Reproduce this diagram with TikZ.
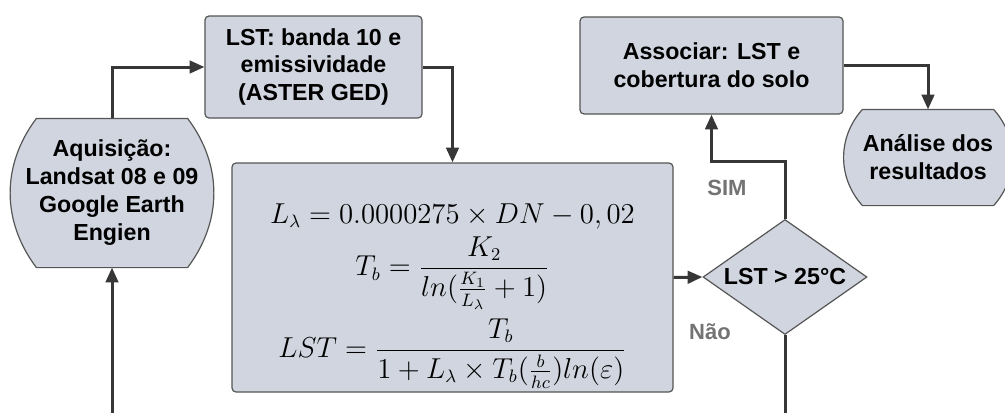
\documentclass[tikz,border=0pt]{standalone}
\usepackage{amsmath,amssymb}
\usepackage{fontspec}
\setmainfont{Liberation Sans}
\usepackage{tikz}
\usetikzlibrary{arrows.meta,positioning,shapes.geometric,calc,backgrounds}
\definecolor{boxFill}{RGB}{208,213,223}
\definecolor{boxLine}{RGB}{85,85,85}
\definecolor{lineCol}{RGB}{55,55,55}
\definecolor{labCol}{RGB}{115,115,115}
\tikzset{
  proc/.style={draw=boxLine,fill=boxFill,rounded corners=2pt,line width=0.6pt,
               align=center,font=\fontsize{11.6}{14}\selectfont\bfseries,inner sep=2pt},
  term/.style={proc,draw=none,fill=none},
  capline/.style={draw=boxLine,fill=boxFill,line width=0.6pt},
  decis/.style={proc,rounded corners=0pt,diamond,aspect=1.43,inner sep=0pt},
  flow/.style={-{Triangle[length=2.6mm,width=2.2mm]},line width=1.5pt,draw=lineCol},
  lab/.style={font=\fontsize{11}{13}\selectfont\bfseries,text=labCol},
}
% flat top and bottom, bulging sides: node name, inset, bend
\newcommand\capsule[3]{%
  \begin{scope}[on background layer]
    \draw[capline] ($(#1.north west)+(#2,0)$) -- ($(#1.north east)+(-#2,0)$)
      to[bend left=#3] ($(#1.south east)+(-#2,0)$) -- ($(#1.south west)+(#2,0)$)
      to[bend left=#3] ($(#1.north west)+(#2,0)$) -- cycle;
  \end{scope}}

\begin{document}
\begin{tikzpicture}[x=0.5pt,y=-0.5pt]
    \useasboundingbox (0,0) rectangle (1005,412);
    \clip (0,0) rectangle (1005,412);
    % --- boxes (pixel coordinates, y downwards) ---
    \node[proc,minimum width=108.5pt,minimum height=51pt] (lst) at (313.5,67)
        {LST: banda 10 e\\emissividade\\(ASTER GED)};
    \node[term,minimum width=100pt,minimum height=74pt] (aq) at (112,193)
        {Aquisição:\\Landsat 08 e 09\\Google Earth\\Engien};
    \capsule{aq}{25}{37}
    \node[proc,minimum width=220.5pt,minimum height=114.5pt,
          font=\fontsize{13.5}{16}\selectfont] (eqs) at (452.5,277.5)
        {\raisebox{-8.5pt}[\height][\depth]{$\begin{gathered}
           L_\lambda = 0.0000275 \times DN - 0,02\\[-2pt]
           T_b = \dfrac{K_2}{ln(\frac{K_1}{L_\lambda}+1)}\\[0.5pt]
           LST = \dfrac{T_b}{1+L_\lambda \times T_b(\frac{b}{hc})ln(\varepsilon)}
         \end{gathered}$}};
    \node[decis,minimum width=82pt,minimum height=57.5pt] (dec) at (785,277)
        {LST > 25°C};
    \node[proc,minimum width=131.5pt,minimum height=48.5pt] (assoc) at (711.5,65.5)
        {Associar: LST e\\cobertura do solo};
    \node[term,minimum width=84pt,minimum height=47.5pt] (res) at (928,157.5)
        {Análise dos\\resultados};
    \capsule{res}{19}{42}
    % --- connectors ---
    \draw[flow] (aq.north) |- (lst.west);
    \draw[flow] (lst.east) -| (eqs.north);
    \draw[flow] (eqs.east) -- (dec.west);
    \draw[flow] (dec.north) -- ++(0,-57) coordinate (up) -| (assoc.south);
    \draw[flow] (assoc.east) -| (res.north);
    % loop back runs off the lower edge
    \draw[flow] (dec.south) -- ++(0,100) coordinate (down) -| (aq.south);
    % --- labels ---
    \node[lab] (sim) at (727,188) {SIM};
    \node[lab] (nao) at (710,332) {Não};
\end{tikzpicture}
\end{document}
